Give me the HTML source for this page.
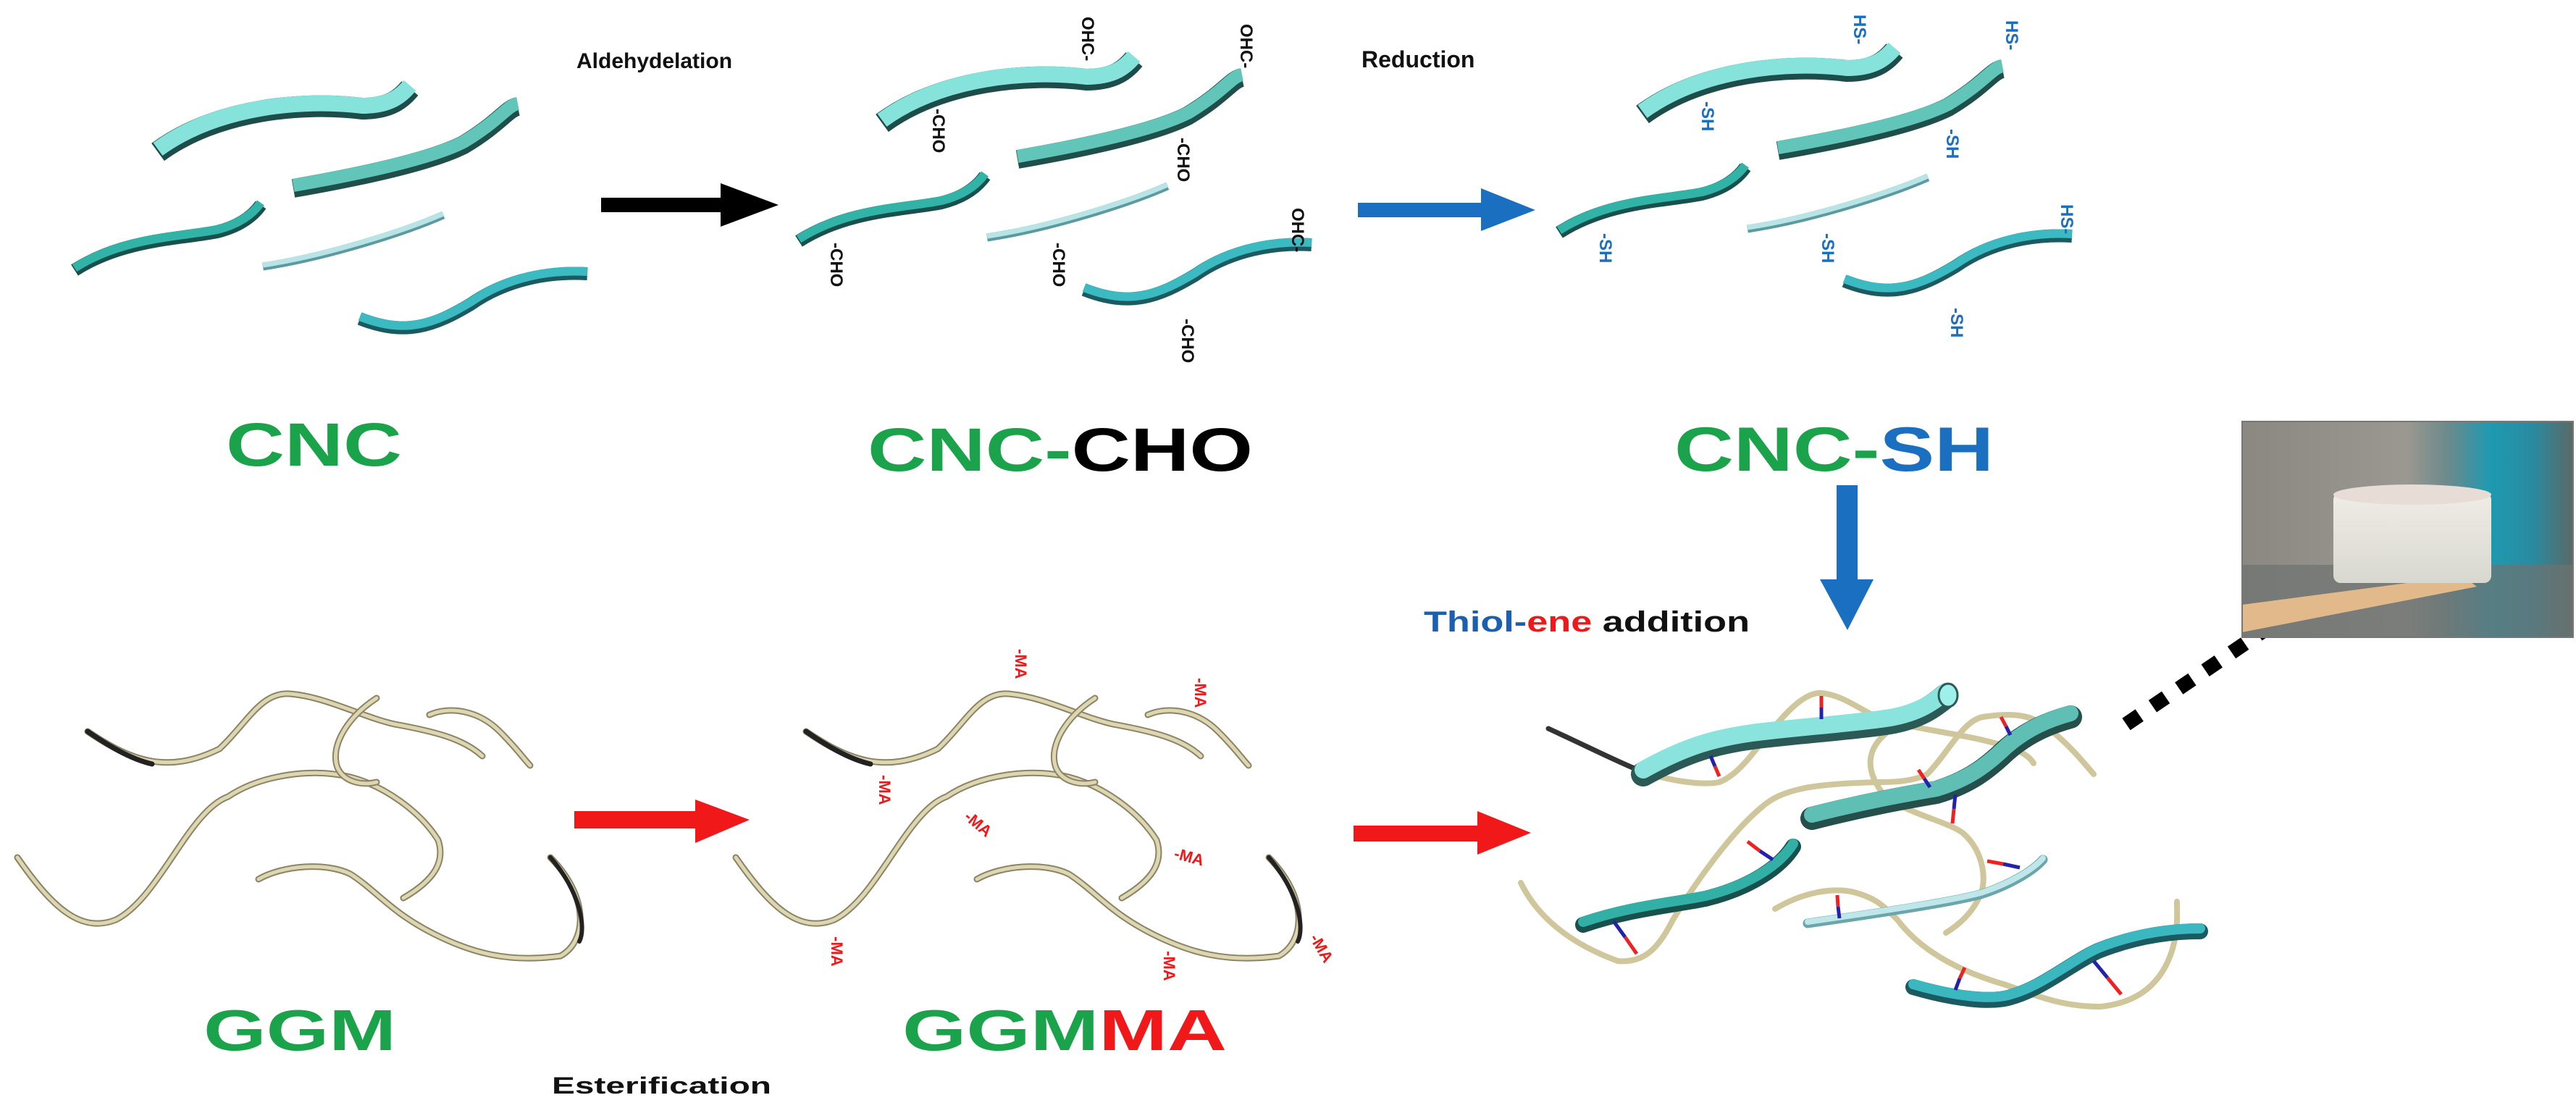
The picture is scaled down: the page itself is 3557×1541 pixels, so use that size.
<!DOCTYPE html>
<html><head><meta charset="utf-8"><style>
html,body{margin:0;padding:0;background:#fff;}
svg{display:block;}
text{font-family:"Liberation Sans",sans-serif;font-weight:bold;}
</style></head><body>
<svg width="3557" height="1541" viewBox="0 0 3557 1541" xmlns="http://www.w3.org/2000/svg">
<defs>
<g id="strands">
  <path d="M218,210 C300,150 420,140 500,150 C540,150 555,135 566,122" fill="none" stroke="#1d4d4a" stroke-width="30" stroke-linecap="butt"/>
  <path d="M218,206 C300,146 420,136 500,146 C540,146 555,131 566,118" fill="none" stroke="#86e3dc" stroke-width="22"/>
  <path d="M405,260 C520,240 600,220 640,200 C690,170 700,150 715,147" fill="none" stroke="#1f4f4b" stroke-width="26"/>
  <path d="M405,256 C520,236 600,216 640,196 C690,166 700,146 715,143" fill="none" stroke="#62c5b9" stroke-width="18"/>
  <path d="M103,373 C170,330 250,330 300,320 C340,310 355,290 360,283" fill="none" stroke="#17504c" stroke-width="18"/>
  <path d="M103,370 C170,327 250,327 300,317 C340,307 355,287 360,280" fill="none" stroke="#32b3a8" stroke-width="12"/>
  <path d="M363,368 C450,355 560,320 612,297" fill="none" stroke="#5a9aa0" stroke-width="11"/>
  <path d="M363,366 C450,353 560,318 612,295" fill="none" stroke="#b9e4e6" stroke-width="7"/>
  <path d="M497,440 C560,465 600,450 650,420 C700,385 760,375 811,378" fill="none" stroke="#1b5a60" stroke-width="18"/>
  <path d="M497,437 C560,462 600,447 650,417 C700,382 760,372 811,375" fill="none" stroke="#3cbac2" stroke-width="12"/>
</g>
<g id="ggm" fill="none" stroke-linecap="round">
  <path d="M121,1010 C180,1050 230,1070 303,1034 C340,1000 360,955 400,958 C450,962 500,990 545,1000 C600,1010 640,1020 666,1044" stroke="#8a8466" stroke-width="9"/>
  <path d="M121,1010 C180,1050 230,1070 303,1034 C340,1000 360,955 400,958 C450,962 500,990 545,1000 C600,1010 640,1020 666,1044" stroke="#ddd6b0" stroke-width="5"/>
  <path d="M24,1184 C70,1250 110,1290 160,1270 C220,1240 260,1120 315,1100 C360,1070 430,1060 484,1073 C530,1085 580,1120 605,1160 C615,1190 600,1215 557,1240" stroke="#8a8466" stroke-width="9"/>
  <path d="M24,1184 C70,1250 110,1290 160,1270 C220,1240 260,1120 315,1100 C360,1070 430,1060 484,1073 C530,1085 580,1120 605,1160 C615,1190 600,1215 557,1240" stroke="#ddd6b0" stroke-width="5"/>
  <path d="M357,1214 C390,1195 450,1190 484,1207 C520,1230 540,1260 600,1290 C650,1315 700,1330 774,1320 C810,1300 815,1240 760,1184" stroke="#8a8466" stroke-width="9"/>
  <path d="M357,1214 C390,1195 450,1190 484,1207 C520,1230 540,1260 600,1290 C650,1315 700,1330 774,1320 C810,1300 815,1240 760,1184" stroke="#ddd6b0" stroke-width="5"/>
  <path d="M520,964 C480,990 455,1030 466,1060 C475,1080 500,1085 520,1080" stroke="#8a8466" stroke-width="9"/>
  <path d="M520,964 C480,990 455,1030 466,1060 C475,1080 500,1085 520,1080" stroke="#ddd6b0" stroke-width="5"/>
  <path d="M593,987 C620,975 660,980 690,1010 C715,1035 725,1050 732,1057" stroke="#8a8466" stroke-width="9"/>
  <path d="M593,987 C620,975 660,980 690,1010 C715,1035 725,1050 732,1057" stroke="#ddd6b0" stroke-width="5"/>
  <path d="M121,1010 C150,1030 180,1048 210,1055" stroke="#222" stroke-width="7"/>
  <path d="M760,1184 C800,1230 810,1280 800,1300" stroke="#222" stroke-width="6"/>
</g>
</defs>

<use href="#strands"/>
<use href="#strands" transform="translate(1000,-40)"/>
<use href="#strands" transform="translate(2050,-52)"/>

<polygon points="830,273 995,273 995,253 1075,283 995,313 995,293 830,293" fill="#000"/>
<polygon points="1875,280 2045,280 2045,260 2120,290 2045,319 2045,300 1875,300" fill="#1a6fc0"/>
<text x="796" y="94" font-size="30" fill="#111">Aldehydelation</text>
<text x="1880" y="93" font-size="32" fill="#111">Reduction</text>

<g font-size="24" fill="#111">
<text transform="translate(1494,23) rotate(90)">OHC-</text>
<text transform="translate(1288,150) rotate(90)">-CHO</text>
<text transform="translate(1713,33) rotate(90)">OHC-</text>
<text transform="translate(1626,190) rotate(90)">-CHO</text>
<text transform="translate(1147,335) rotate(90)">-CHO</text>
<text transform="translate(1454,335) rotate(90)">-CHO</text>
<text transform="translate(1784,287) rotate(90)">OHC-</text>
<text transform="translate(1632,440) rotate(90)">-CHO</text>
</g>
<g font-size="24" fill="#1a6fc0">
<text transform="translate(2560,20) rotate(90)">HS-</text>
<text transform="translate(2350,140) rotate(90)">-SH</text>
<text transform="translate(2770,28) rotate(90)">HS-</text>
<text transform="translate(2688,178) rotate(90)">-SH</text>
<text transform="translate(2209,322) rotate(90)">-SH</text>
<text transform="translate(2516,322) rotate(90)">-SH</text>
<text transform="translate(2846,282) rotate(90)">HS-</text>
<text transform="translate(2694,425) rotate(90)">-SH</text>
</g>

<text x="312" y="643" font-size="84" textLength="243" lengthAdjust="spacingAndGlyphs" fill="#1aa34a">CNC</text>
<text x="1198" y="650" font-size="84" textLength="532" lengthAdjust="spacingAndGlyphs"><tspan fill="#1aa34a">CNC-</tspan><tspan fill="#000">CHO</tspan></text>
<text x="2312" y="650" font-size="86" textLength="441" lengthAdjust="spacingAndGlyphs"><tspan fill="#1aa34a">CNC-</tspan><tspan fill="#1a6fc0">SH</tspan></text>
<text x="281" y="1450" font-size="80" textLength="266" lengthAdjust="spacingAndGlyphs" fill="#1aa34a">GGM</text>
<text x="1246" y="1450" font-size="80" textLength="448" lengthAdjust="spacingAndGlyphs"><tspan fill="#1aa34a">GGM</tspan><tspan fill="#f01818">MA</tspan></text>
<text x="762" y="1510" font-size="32" textLength="303" lengthAdjust="spacingAndGlyphs" fill="#111">Esterification</text>
<text x="1966" y="872" font-size="40" textLength="450" lengthAdjust="spacingAndGlyphs"><tspan fill="#1a5fb0">Thiol-</tspan><tspan fill="#f01818">ene</tspan><tspan fill="#111"> addition</tspan></text>

<polygon points="2536,670 2565,670 2565,800 2587,800 2551,870 2513,800 2536,800" fill="#1a6fc0"/>

<use href="#ggm"/>
<use href="#ggm" transform="translate(992,0)"/>
<polygon points="793,1120 960,1120 960,1104 1035,1132 960,1164 960,1144 793,1144" fill="#f01818"/>
<polygon points="1869,1140 2040,1140 2040,1120 2114,1150 2040,1180 2040,1162 1869,1162" fill="#f01818"/>

<g font-size="22" fill="#f01818">
<text transform="translate(1402,896) rotate(90)">-MA</text>
<text transform="translate(1650,936) rotate(90)">-MA</text>
<text transform="translate(1214,1070) rotate(90)">-MA</text>
<text transform="translate(1330,1130) rotate(40)">-MA</text>
<text transform="translate(1620,1185) rotate(15)">-MA</text>
<text transform="translate(1148,1293) rotate(90)">-MA</text>
<text transform="translate(1607,1313) rotate(90)">-MA</text>
<text transform="translate(1808,1295) rotate(60)">-MA</text>
</g>

<!-- network -->
<g fill="none" stroke-linecap="round">
  <path d="M2138,1006 C2190,1030 2230,1050 2259,1062" stroke="#333" stroke-width="7"/>
  <path d="M2259,1062 C2300,1078 2350,1085 2374,1080 C2400,1070 2420,1040 2432,1026 C2460,990 2490,955 2515,957 C2550,960 2580,990 2610,997 C2660,1008 2710,1015 2738,1022 C2780,1032 2800,1040 2808,1054" stroke="#cfc69c" stroke-width="8"/>
  <path d="M2100,1219 C2120,1260 2160,1300 2234,1327 C2270,1330 2290,1310 2310,1270 C2340,1220 2390,1150 2432,1115 C2460,1090 2500,1082 2598,1080 C2630,1080 2650,1075 2661,1069 C2690,1040 2710,995 2738,990 C2770,985 2800,985 2820,1000 C2850,1020 2875,1050 2891,1069" stroke="#cfc69c" stroke-width="8"/>
  <path d="M2610,1008 C2580,1030 2570,1060 2604,1101 C2640,1125 2690,1135 2710,1150 C2740,1175 2745,1220 2732,1241 C2720,1265 2700,1280 2687,1288" stroke="#cfc69c" stroke-width="8"/>
  <path d="M2451,1255 C2490,1232 2530,1225 2560,1232 C2590,1240 2600,1250 2620,1270 C2650,1310 2700,1340 2770,1360 C2820,1378 2850,1390 2900,1390 C2950,1385 2985,1360 3000,1310 C3008,1280 3006,1260 3006,1245" stroke="#cfc69c" stroke-width="8"/>
  <!-- cylinders -->
  <path d="M2269,1069 C2330,1035 2370,1025 2419,1018 C2480,1010 2560,1005 2610,997 C2650,990 2670,975 2687,961" stroke="#2b5a56" stroke-width="34"/>
  <path d="M2269,1063 C2330,1029 2370,1019 2419,1012 C2480,1004 2560,999 2610,991 C2650,984 2670,969 2687,955" stroke="#8ae3dc" stroke-width="24"/>
  <ellipse cx="2690" cy="960" rx="13" ry="16" fill="#9ff0ea" stroke="#2b5a56" stroke-width="3"/>
  <path d="M2502,1130 C2580,1110 2640,1100 2674,1094 C2720,1080 2745,1060 2770,1036 C2800,1010 2830,998 2859,990" stroke="#244f4b" stroke-width="32"/>
  <path d="M2502,1125 C2580,1105 2640,1095 2674,1089 C2720,1075 2745,1055 2770,1031 C2800,1005 2830,993 2859,985" stroke="#5fbfb4" stroke-width="22"/>
  <path d="M2186,1277 C2250,1255 2310,1250 2355,1241 C2420,1225 2460,1195 2476,1169" stroke="#17504c" stroke-width="22"/>
  <path d="M2186,1273 C2250,1251 2310,1246 2355,1237 C2420,1221 2460,1191 2476,1165" stroke="#33b0a6" stroke-width="14"/>
  <path d="M2496,1275 C2600,1260 2700,1245 2738,1234 C2780,1220 2810,1200 2821,1187" stroke="#6aa6ab" stroke-width="13"/>
  <path d="M2496,1273 C2600,1258 2700,1243 2738,1232 C2780,1218 2810,1198 2821,1185" stroke="#bfe6e8" stroke-width="8"/>
  <path d="M2642,1363 C2700,1380 2750,1385 2776,1377 C2820,1365 2860,1330 2897,1313 C2950,1292 3000,1286 3038,1286" stroke="#1b5a60" stroke-width="22"/>
  <path d="M2642,1359 C2700,1376 2750,1381 2776,1373 C2820,1361 2860,1326 2897,1309 C2950,1288 3000,1282 3038,1282" stroke="#3bb7c0" stroke-width="14"/>
  <g stroke-width="5" stroke-linecap="butt">
  <path d="M2515,961 L2515,977" stroke="#e22"/><path d="M2515,977 L2515,993" stroke="#22a"/>
  <path d="M2362,1044 L2368,1058" stroke="#22a"/><path d="M2368,1058 L2374,1072" stroke="#e22"/>
  <path d="M2763,990 L2770,1003" stroke="#e22"/><path d="M2770,1003 L2776,1015" stroke="#22a"/>
  <path d="M2649,1063 L2657,1075" stroke="#e22"/><path d="M2657,1075 L2665,1087" stroke="#22a"/>
  <path d="M2700,1097 L2698,1117" stroke="#22a"/><path d="M2698,1117 L2696,1137" stroke="#e22"/>
  <path d="M2413,1162 L2430,1175" stroke="#e22"/><path d="M2430,1175 L2448,1187" stroke="#22a"/>
  <path d="M2744,1189 L2766,1193" stroke="#e22"/><path d="M2766,1193 L2789,1198" stroke="#22a"/>
  <path d="M2537,1236 L2538,1252" stroke="#e22"/><path d="M2538,1252 L2540,1268" stroke="#22a"/>
  <path d="M2228,1272 L2244,1294" stroke="#22a"/><path d="M2244,1294 L2260,1317" stroke="#e22"/>
  <path d="M2713,1336 L2706,1351" stroke="#e22"/><path d="M2706,1351 L2700,1367" stroke="#22a"/>
  <path d="M2891,1327 L2910,1350" stroke="#22a"/><path d="M2910,1350 L2929,1373" stroke="#e22"/>
  </g>
</g>

<line x1="2936" y1="1000" x2="3230" y2="800" stroke="#000" stroke-width="20" stroke-dasharray="22,22"/>

<defs>
<linearGradient id="pbg" x1="0" y1="0" x2="1" y2="0">
<stop offset="0" stop-color="#8a8880"/><stop offset="0.5" stop-color="#9a9890"/><stop offset="0.62" stop-color="#6c8a8c"/><stop offset="0.75" stop-color="#1e9ab0"/><stop offset="0.88" stop-color="#2a8aa0"/><stop offset="1" stop-color="#5a6a66"/>
</linearGradient>
<linearGradient id="cyl" x1="0" y1="0" x2="0" y2="1">
<stop offset="0" stop-color="#f0ece6"/><stop offset="1" stop-color="#d8d8d0"/>
</linearGradient>
</defs>
<rect x="3096" y="582" width="457" height="298" fill="url(#pbg)"/>
<rect x="3096" y="780" width="457" height="100" fill="#6d7270" opacity="0.7"/>
<polygon points="3096,835 3400,795 3420,810 3096,873" fill="#e2b98a"/>
<rect x="3222" y="680" width="218" height="125" rx="10" fill="url(#cyl)"/>
<ellipse cx="3331" cy="683" rx="109" ry="14" fill="#e7dcd6"/>
<rect x="3096" y="582" width="457" height="298" fill="none" stroke="#777" stroke-width="2"/>
</svg>
</body></html>
